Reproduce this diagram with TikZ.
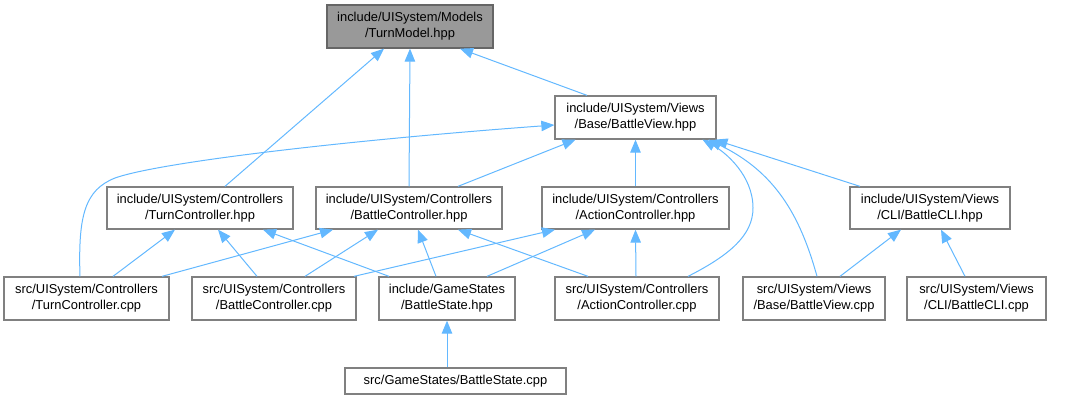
\documentclass[tikz,border=0pt]{standalone}
\usepackage{fontspec}
\setmainfont{Liberation Sans}
\usetikzlibrary{arrows.meta,calc}
\definecolor{edgec}{HTML}{63B8FF}
\definecolor{boxc}{HTML}{808080}
\definecolor{rootfill}{HTML}{999999}
\definecolor{rootdraw}{HTML}{666666}
\begin{document}
\begin{tikzpicture}[x=1pt,y=-1pt,
  box/.style={draw=boxc,line width=1.3pt,fill=white,inner sep=0pt,align=center,minimum height=43pt,
    font=\fontsize{12.9}{16}\selectfont},
  root/.style={box,fill=rootfill,draw=rootdraw},
  edge/.style={draw=edgec,line width=1pt,-{Triangle[length=13pt,width=10.5pt]}}]
\useasboundingbox (0,0) rectangle (1068,400);
\node[root,minimum width=166pt] (TM) at (410,26.5) {include/UISystem/Models\\/TurnModel.hpp};
\node[box,minimum width=161pt] (BVh) at (635.5,117.5) {include/UISystem/Views\\/Base/BattleView.hpp};
\node[box,minimum width=186pt,minimum height=42pt] (TCh) at (200,208) {include/UISystem/Controllers\\/TurnController.hpp};
\node[box,minimum width=186pt,minimum height=42pt] (BCh) at (409,208) {include/UISystem/Controllers\\/BattleController.hpp};
\node[box,minimum width=187pt,minimum height=42pt] (ACh) at (635.5,208) {include/UISystem/Controllers\\/ActionController.hpp};
\node[box,minimum width=160pt,minimum height=42pt] (CLIh) at (930,208) {include/UISystem/Views\\/CLI/BattleCLI.hpp};
\node[box,minimum width=165pt] (TCc) at (86.5,298.5) {src/UISystem/Controllers\\/TurnController.cpp};
\node[box,minimum width=164pt] (BCc) at (274,298.5) {src/UISystem/Controllers\\/BattleController.cpp};
\node[box,minimum width=136pt] (BSh) at (447,298.5) {include/GameStates\\/BattleState.hpp};
\node[box,minimum width=164pt] (ACc) at (637,298.5) {src/UISystem/Controllers\\/ActionController.cpp};
\node[box,minimum width=142pt] (BVc) at (814,298.5) {src/UISystem/Views\\/Base/BattleView.cpp};
\node[box,minimum width=139pt] (CLIc) at (976.5,298.5) {src/UISystem/Views\\/CLI/BattleCLI.cpp};
\node[box,minimum width=221pt,minimum height=26pt] (BSc) at (455.5,381) {src/GameStates/BattleState.cpp};
% edges to TurnModel
\draw[edge] ([xshift=25]TCh.north) -- ([xshift=-26]TM.south);
\draw[edge] (BCh.north) -- (TM.south);
\draw[edge] ([xshift=-48.5]BVh.north) -- ([xshift=50]TM.south);
% edges to BattleView.hpp
\draw[edge] ([xshift=-6.5]TCc.north) .. controls (78,215) and (85,190) .. (115,178)
  .. controls (160,162) and (350,140) .. (BVh.west |- 0,125);
\draw[edge] ([xshift=49]BCh.north) -- ([xshift=-60]BVh.south);
\draw[edge] (ACh.north) -- (BVh.south);
\draw[edge] ([xshift=51]ACc.north) .. controls (730,255) and (753,235) .. (753,208)
  .. controls (753,175) and (725,152) .. ([xshift=67]BVh.south);
\draw[edge] ([xshift=3]BVc.north) .. controls (800,215) and (775,172) .. ([xshift=73]BVh.south);
\draw[edge] ([xshift=-70]CLIh.north) -- ([xshift=79]BVh.south);
% edges to TurnController.hpp
\draw[edge] ([xshift=26.5]TCc.north) -- ([xshift=-25]TCh.south);
\draw[edge] ([xshift=-17]BCc.north) -- ([xshift=18]TCh.south);
\draw[edge] ([xshift=-58]BSh.north) -- ([xshift=63]TCh.south);
% edges to BattleController.hpp
\draw[edge] ([xshift=75.5]TCc.north) -- ([xshift=-76]BCh.south);
\draw[edge] ([xshift=31]BCc.north) -- ([xshift=-31]BCh.south);
\draw[edge] ([xshift=-11]BSh.north) -- ([xshift=9]BCh.south);
\draw[edge] ([xshift=-49]ACc.north) -- ([xshift=49]BCh.south);
% edges to ActionController.hpp
\draw[edge] ([xshift=80]BCc.north) -- ([xshift=-80.5]ACh.south);
\draw[edge] ([xshift=40]BSh.north) -- ([xshift=-40.5]ACh.south);
\draw[edge] ([xshift=-1]ACc.north) -- (ACh.south);
% edges to BattleCLI.hpp
\draw[edge] ([xshift=26]BVc.north) -- ([xshift=-29]CLIh.south);
\draw[edge] ([xshift=-11.5]CLIc.north) -- ([xshift=11]CLIh.south);
% BattleState
\draw[edge] (BSh.south |- BSc.north) -- (BSh.south);
\end{tikzpicture}
\end{document}
